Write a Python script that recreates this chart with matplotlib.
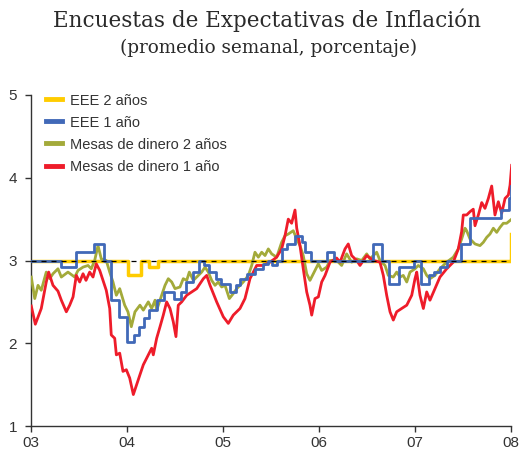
import matplotlib
matplotlib.use("Agg")
import matplotlib.pyplot as plt
from matplotlib.lines import Line2D

# ---------------- data (decimal years, percent) ----------------
# EEE 2 años (step series)
eee2_t = [2003.000, 2004.010, 2004.146, 2004.234, 2004.318, 2007.985, 2008.000]
eee2_v = [3.00, 2.82, 3.00, 2.92, 3.00, 3.00, 3.32]

# EEE 1 año (step series)
eee1_t = [2003.000, 2003.316, 2003.469, 2003.656, 2003.760, 2003.833, 2003.917,
          2004.000, 2004.073, 2004.120, 2004.177, 2004.229, 2004.312, 2004.385,
          2004.490, 2004.563, 2004.615, 2004.688, 2004.750, 2004.802, 2004.854,
          2004.927, 2004.979, 2005.073, 2005.135, 2005.177, 2005.250, 2005.333,
          2005.417, 2005.469, 2005.510, 2005.563, 2005.615, 2005.667, 2005.750,
          2005.823, 2005.854, 2005.917, 2006.083, 2006.156, 2006.563, 2006.656,
          2006.729, 2006.833, 2006.990, 2007.063, 2007.146, 2007.198, 2007.260,
          2007.333, 2007.479, 2007.573, 2007.896, 2007.974, 2008.000]
eee1_v = [3.00, 2.92, 3.10, 3.20, 3.00, 2.52, 2.32,
          2.02, 2.10, 2.20, 2.30, 2.40, 2.52, 2.62,
          2.54, 2.62, 2.74, 2.86, 3.00, 2.94, 2.86,
          2.78, 2.72, 2.62, 2.70, 2.78, 2.84, 2.90,
          2.96, 3.00, 2.94, 3.00, 3.14, 3.20, 3.30,
          3.22, 3.10, 3.00, 3.10, 3.00, 3.20, 3.00,
          2.72, 2.92, 3.00, 2.72, 2.82, 2.86, 2.92,
          3.00, 3.20, 3.51, 3.61, 3.75, 3.90]

# Mesas de dinero 2 años
md2_t = [2003.003, 2003.039, 2003.073, 2003.107, 2003.159, 2003.195, 2003.229,
         2003.281, 2003.316, 2003.385, 2003.455, 2003.490, 2003.542, 2003.594,
         2003.628, 2003.663, 2003.698, 2003.732, 2003.784, 2003.820, 2003.854,
         2003.889, 2003.924, 2003.976, 2004.010, 2004.045, 2004.083, 2004.135,
         2004.170, 2004.222, 2004.257, 2004.292, 2004.309, 2004.361, 2004.396,
         2004.430, 2004.466, 2004.500, 2004.552, 2004.586, 2004.622, 2004.649,
         2004.691, 2004.726, 2004.778, 2004.813, 2004.847, 2004.882, 2004.917,
         2004.951, 2004.986, 2005.021, 2005.066, 2005.107, 2005.143, 2005.177,
         2005.211, 2005.264, 2005.299, 2005.333, 2005.368, 2005.403, 2005.438,
         2005.472, 2005.507, 2005.559, 2005.611, 2005.646, 2005.680, 2005.732,
         2005.768, 2005.802, 2005.836, 2005.872, 2005.906, 2005.941, 2005.993,
         2006.028, 2006.080, 2006.115, 2006.184, 2006.236, 2006.288, 2006.340,
         2006.393, 2006.445, 2006.497, 2006.531, 2006.601, 2006.635, 2006.688,
         2006.722, 2006.774, 2006.809, 2006.844, 2006.878, 2006.914, 2006.948,
         2007.000, 2007.034, 2007.087, 2007.122, 2007.156, 2007.208, 2007.260,
         2007.330, 2007.399, 2007.451, 2007.486, 2007.521, 2007.538, 2007.573,
         2007.625, 2007.677, 2007.712, 2007.747, 2007.781, 2007.816, 2007.851,
         2007.885, 2007.920, 2007.955, 2008.007]
md2_v = [2.80, 2.54, 2.70, 2.64, 2.86, 2.78, 2.84,
         2.90, 2.80, 2.86, 2.80, 2.88, 2.92, 2.94,
         2.90, 3.00, 3.18, 3.02, 3.00, 2.86, 2.74,
         2.58, 2.66, 2.46, 2.38, 2.20, 2.38, 2.46,
         2.40, 2.50, 2.42, 2.52, 2.40, 2.58, 2.70,
         2.78, 2.74, 2.66, 2.68, 2.78, 2.76, 2.86,
         2.76, 2.80, 2.86, 2.92, 2.86, 2.76, 2.70,
         2.74, 2.68, 2.70, 2.54, 2.60, 2.66, 2.70,
         2.74, 2.82, 2.94, 3.10, 3.04, 3.10, 3.06,
         3.14, 3.08, 3.04, 3.22, 3.30, 3.32, 3.36,
         3.26, 3.18, 3.06, 2.84, 2.76, 2.84, 2.96,
         2.88, 2.92, 3.00, 3.00, 2.94, 3.08, 2.98,
         3.02, 3.00, 3.08, 3.02, 3.10, 3.00, 2.94,
         2.82, 2.80, 2.86, 2.80, 2.82, 2.74, 2.86,
         2.90, 2.94, 2.90, 2.82, 2.78, 2.82, 2.90,
         2.98, 3.04, 3.14, 3.26, 3.39, 3.36, 3.26,
         3.20, 3.18, 3.22, 3.28, 3.32, 3.39, 3.34,
         3.40, 3.45, 3.45, 3.50]

# Mesas de dinero 1 año
md1_t = [2003.003, 2003.045, 2003.107, 2003.159, 2003.184, 2003.229, 2003.281,
         2003.316, 2003.368, 2003.403, 2003.438, 2003.472, 2003.507, 2003.542,
         2003.573, 2003.611, 2003.646, 2003.680, 2003.716, 2003.750, 2003.784,
         2003.820, 2003.836, 2003.872, 2003.889, 2003.924, 2003.958, 2003.993,
         2004.028, 2004.066, 2004.135, 2004.170, 2004.205, 2004.257, 2004.274,
         2004.309, 2004.344, 2004.378, 2004.413, 2004.448, 2004.482, 2004.510,
         2004.534, 2004.570, 2004.622, 2004.674, 2004.726, 2004.795, 2004.830,
         2004.865, 2004.934, 2005.003, 2005.055, 2005.107, 2005.177, 2005.229,
         2005.264, 2005.281, 2005.316, 2005.351, 2005.420, 2005.490, 2005.559,
         2005.611, 2005.646, 2005.680, 2005.715, 2005.750, 2005.768, 2005.802,
         2005.836, 2005.872, 2005.906, 2005.924, 2005.958, 2005.993, 2006.028,
         2006.063, 2006.115, 2006.184, 2006.219, 2006.271, 2006.305, 2006.340,
         2006.393, 2006.427, 2006.462, 2006.497, 2006.566, 2006.635, 2006.670,
         2006.705, 2006.740, 2006.774, 2006.809, 2006.861, 2006.914, 2006.966,
         2007.000, 2007.018, 2007.052, 2007.087, 2007.122, 2007.156, 2007.208,
         2007.260, 2007.330, 2007.399, 2007.451, 2007.486, 2007.503, 2007.538,
         2007.573, 2007.607, 2007.625, 2007.660, 2007.695, 2007.729, 2007.764,
         2007.799, 2007.833, 2007.868, 2007.903, 2007.938, 2007.972, 2007.990,
         2008.007]
md1_v = [2.45, 2.23, 2.42, 2.74, 2.86, 2.70, 2.63,
         2.52, 2.38, 2.46, 2.56, 2.82, 2.74, 2.84,
         2.76, 2.86, 2.80, 2.96, 2.88, 2.76, 2.64,
         2.42, 2.10, 2.06, 1.86, 1.88, 1.66, 1.68,
         1.58, 1.38, 1.62, 1.74, 1.82, 1.94, 1.86,
         2.06, 2.20, 2.34, 2.50, 2.42, 2.26, 2.08,
         2.46, 2.50, 2.58, 2.62, 2.66, 2.78, 2.82,
         2.70, 2.50, 2.32, 2.24, 2.34, 2.42, 2.54,
         2.70, 2.78, 2.86, 2.94, 2.94, 2.98, 3.04,
         3.14, 3.30, 3.50, 3.45, 3.61, 3.39, 3.18,
         2.90, 2.62, 2.46, 2.34, 2.54, 2.56, 2.74,
         2.82, 2.98, 3.03, 2.98, 3.14, 3.20, 3.06,
         3.00, 2.94, 3.00, 3.06, 3.00, 2.98, 2.82,
         2.58, 2.38, 2.28, 2.38, 2.42, 2.46, 2.58,
         2.78, 2.86, 2.58, 2.42, 2.62, 2.52, 2.66,
         2.80, 2.90, 2.98, 3.14, 3.35, 3.55, 3.55,
         3.59, 3.62, 3.42, 3.55, 3.70, 3.63, 3.75,
         3.90, 3.55, 3.71, 3.57, 3.75, 3.79, 3.91,
         4.15]

target_value = 3.0
x_ticks = [2003, 2004, 2005, 2006, 2007, 2008]
x_labels = ["03", "04", "05", "06", "07", "08"]
y_ticks = [1, 2, 3, 4, 5]

title = "Encuestas de Expectativas de Inflación"
subtitle = "(promedio semanal, porcentaje)"
labels = ["EEE 2 años", "EEE 1 año", "Mesas de dinero 2 años", "Mesas de dinero 1 año"]

# ---------------- styling ----------------
C_YEL = "#FFCC00"
C_BLU = "#4169B8"
C_OLI = "#A3AA3A"
C_RED = "#EE1C2A"
TXT = "#333333"

plt.rcParams["font.family"] = ["Liberation Sans", "DejaVu Sans"]

fig = plt.figure(figsize=(5.19, 4.54), dpi=100)
ax = fig.add_axes([31 / 519, 1 - 426 / 454, 480 / 519, 331 / 454])

lw = 2.0
ax.plot(eee2_t, eee2_v, color=C_YEL, lw=lw + 0.5, drawstyle="steps-post", zorder=2)
ax.plot(md2_t, md2_v, color=C_OLI, lw=lw, zorder=3)
ax.plot(md1_t, md1_v, color=C_RED, lw=lw, zorder=4)
ax.plot(eee1_t, eee1_v, color=C_BLU, lw=lw, drawstyle="steps-post", zorder=5)
ax.axhline(target_value, color="black", lw=0.9, ls=(0, (4, 4)), zorder=6)

ax.set_xlim(x_ticks[0], x_ticks[-1])
ax.set_ylim(y_ticks[0], y_ticks[-1])
ax.set_xticks(x_ticks)
ax.set_xticklabels(x_labels)
ax.set_yticks(y_ticks)

for s in ["top", "right"]:
    ax.spines[s].set_visible(False)
for s in ["left", "bottom"]:
    ax.spines[s].set_color("#333333")
    ax.spines[s].set_linewidth(1.0)
ax.tick_params(axis="both", direction="out", length=4, width=1.0, color="#333333",
               labelsize=11, labelcolor=TXT, pad=3)
ax.tick_params(axis="y", pad=6)
ax.patch.set_visible(False)

handles = [Line2D([], [], color=c, lw=3.5) for c in (C_YEL, C_BLU, C_OLI, C_RED)]
leg = ax.legend(handles, labels, loc="upper left", bbox_to_anchor=(0.02, 1.022),
                frameon=False, fontsize=10.5, handlelength=1.1, handletextpad=0.55,
                labelspacing=0.55, borderaxespad=0.0)
for t in leg.get_texts():
    t.set_color(TXT)

fig.text(0.515, 1 - 20 / 454, title, ha="center", va="center", fontsize=15.5,
         family="DejaVu Serif", color="#2a2a2a")
fig.text(0.518, 1 - 48 / 454, subtitle, ha="center", va="center", fontsize=13.2,
         family="DejaVu Serif", color="#2a2a2a")

fig.savefig("out.png", dpi=100)
